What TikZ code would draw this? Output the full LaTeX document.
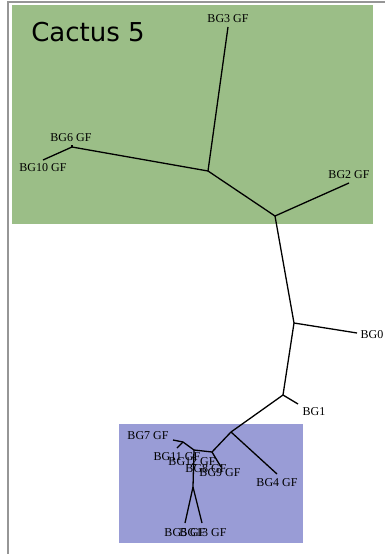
\documentclass[tikz,border=0pt]{standalone}
\usepackage{fontspec}
\setmainfont{Liberation Serif}
\newfontfamily\titlefont{DejaVu Sans}
\definecolor{cactusgreen}{RGB}{155,190,135}
\definecolor{cactusblue}{RGB}{153,156,214}
\definecolor{framegray}{RGB}{150,150,150}

\begin{document}
\begin{tikzpicture}
[%%%%%%%%%%%%%%%%%%%%%%%%%%%%%%
x=1pt,y=-1pt,
leaf/.style={font=\fontsize{12}{12}\selectfont, inner sep=0pt},
branch/.style={draw=black, line width=1.3pt},
]%%%%%%%%%%%%%%%%%%%%%%%%%%%%%%
\useasboundingbox (0,0) rectangle (385,554);

\fill[cactusgreen] (12,5) rectangle (373,224);
\fill[cactusblue] (119,424) rectangle (303,543);
\draw[framegray, line width=1.5pt] (8,554) -- (8,2) -- (385,2);
\node[inner sep=0pt] (title) at (88,32) {\titlefont\fontsize{26}{26}\selectfont Cactus 5};

% inner nodes
\foreach \n/\p in {A/{208,171},B/{275,216},C/{294,323},D/{283,395},E/{231,432},
                   F/{212,452},K/{194,450},J/{183,442},I/{193,487},M/{72,147}}
\coordinate (\n) at (\p);

% leaves
\foreach \n/\e/\t/\l in {bgthree/{228,27}/{228,19}/{BG3 GF},
                         bgsix/{72,145}/{71,138}/{BG6 GF},
                         bgten/{43,160}/{43,168}/{BG10 GF},
                         bgtwo/{349,183}/{349,175}/{BG2 GF},
                         bgzero/{357,333}/{372,335}/{BG0},
                         bgone/{298,404}/{314,412}/{BG1},
                         bgfour/{277,474}/{277,483}/{BG4 GF},
                         bgnine/{221,467}/{220,473}/{BG9 GF},
                         bgeight/{206,469}/{206,469}/{BG8 GF},
                         bgtwelve/{192,462}/{192,462}/{BG12 GF},
                         bgeleven/{177,448}/{177,457}/{BG11 GF},
                         bgseven/{173,440}/{148,436}/{BG7 GF},
                         bgfive/{185,523}/{185,533}/{BG5 GF},
                         bgthirteen/{202,523}/{203,533}/{BG13 GF}}{
\coordinate (\n) at (\e);
\node[leaf] (\n lab) at (\t) {\l};
}

\foreach \a/\b in {A/bgthree,A/M,M/bgsix,M/bgten,A/B,B/bgtwo,B/C,C/bgzero,C/D,
                   D/bgone,D/E,E/bgfour,E/F,F/bgnine,F/K,K/J,J/bgseven,
                   J/bgeleven,K/I,I/bgfive,I/bgthirteen}
\draw[branch] (\a) -- (\b);
\end{tikzpicture}
\end{document}
